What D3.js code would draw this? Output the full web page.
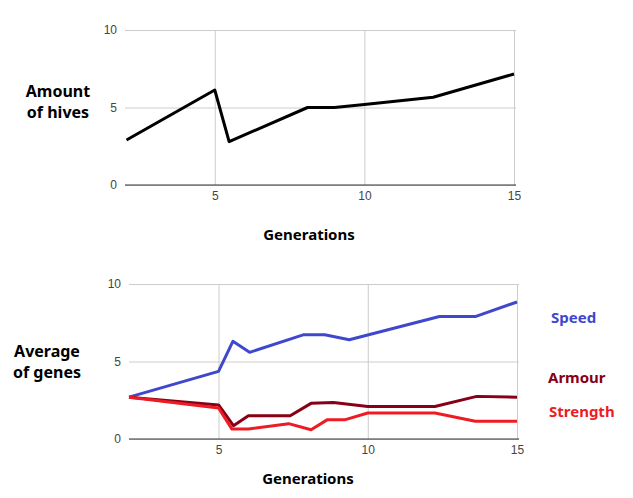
<!DOCTYPE html>
<html lang="en">
<head>
    <meta charset="utf-8"/>
    <title>Hives and genes over generations</title>
    <script src="https://d3js.org/d3.v7.min.js"></script>
    <style>
        html, body { margin: 0; padding: 0; background: #fff; }
        #chart { width: 633px; height: 498px; }
        .tick text { font-family: "Liberation Sans", Arial, sans-serif; font-size: 12px; fill: #444; }
        .title { font-family: "Noto Sans", "DejaVu Sans", sans-serif; font-weight: bold; font-size: 15px; }
        .title.big { font-size: 16px; }
    </style>
</head>
<body>
    <div id="chart"></div>

    <script>
        // top chart: amount of hives
        const hiveGens   = [2.05, 5.0, 5.48, 8.1, 9.0, 10.0, 12.3, 15.0];
        const hiveValues = [2.9, 6.13, 2.8, 5.0, 5.0, 5.2, 5.66, 7.16];

        // bottom chart: average of genes
        const speedGens      = [2.0, 5.0, 5.48, 6.04, 7.86, 8.56, 9.38, 12.4, 13.6, 15.0];
        const speedValues    = [2.7, 4.36, 6.3, 5.59, 6.73, 6.73, 6.4, 7.9, 7.9, 8.84];
        const armourGens     = [2.0, 5.0, 5.5, 6.0, 7.4, 8.1, 8.85, 10.0, 12.25, 13.65, 15.0];
        const armourValues   = [2.7, 2.2, 0.86, 1.5, 1.5, 2.3, 2.35, 2.1, 2.1, 2.75, 2.7];
        const strengthGens   = [2.0, 5.0, 5.45, 6.0, 7.35, 8.1, 8.65, 9.25, 10.0, 12.25, 13.6, 15.0];
        const strengthValues = [2.7, 2.0, 0.64, 0.64, 0.99, 0.6, 1.25, 1.25, 1.68, 1.68, 1.14, 1.14];

        const xTicks = [5, 10, 15];
        const yTicks = [0, 5, 10];

        const svg = d3.select('#chart').append('svg')
            .attr('width', 633)
            .attr('height', 498);

        function drawPanel(opts) {
            const x = d3.scaleLinear().domain(opts.xDomain).range(opts.xRange);
            const y = d3.scaleLinear().domain([0, 10]).range(opts.yRange);
            const g = svg.append('g');

            // horizontal grid
            g.append('g')
                .attr('transform', `translate(${opts.xRange[0]},0)`)
                .call(d3.axisLeft(y).tickValues(yTicks).tickSize(-(opts.xRange[1] - opts.xRange[0] + 2)).tickPadding(8))
                .call(a => a.select('.domain').remove())
                .call(a => a.selectAll('.tick line').attr('stroke', '#cccccc'));

            // vertical grid + bottom labels
            g.append('g')
                .attr('transform', `translate(0,${opts.yRange[0]})`)
                .call(d3.axisBottom(x).tickValues(xTicks).tickSize(-(opts.yRange[0] - opts.yRange[1])).tickPadding(6))
                .call(a => a.select('.domain').remove())
                .call(a => a.selectAll('.tick line').attr('stroke', '#cccccc'));

            // baseline
            g.append('line')
                .attr('x1', opts.xRange[0]).attr('x2', opts.xRange[1] + 2)
                .attr('y1', y(0)).attr('y2', y(0))
                .attr('stroke', '#333').attr('stroke-width', 1);

            const line = d3.line().x(d => x(d[0])).y(d => y(d[1]));
            opts.series.forEach(s => {
                g.append('path')
                    .datum(d3.zip(s.gens, s.values))
                    .attr('fill', 'none')
                    .attr('stroke', s.color)
                    .attr('stroke-width', 3)
                    .attr('stroke-linejoin', 'round')
                    .attr('d', line);
            });
        }

        drawPanel({
            xDomain: [2, 15], xRange: [125, 514], yRange: [185, 30],
            series: [{gens: hiveGens, values: hiveValues, color: '#000000'}]
        });

        drawPanel({
            xDomain: [2, 15], xRange: [129, 517], yRange: [439, 284],
            series: [
                {gens: speedGens, values: speedValues, color: '#3f48cc'},
                {gens: armourGens, values: armourValues, color: '#880015'},
                {gens: strengthGens, values: strengthValues, color: '#ed1c24'}
            ]
        });

        // titles
        function label(text, x, y, color, anchor, cls) {
            svg.append('text')
                .attr('class', 'title' + (cls ? ' ' + cls : ''))
                .attr('x', x).attr('y', y)
                .attr('text-anchor', anchor || 'middle')
                .attr('fill', color || '#000')
                .text(text);
        }
        label('Amount', 58, 97, null, null, 'big');
        label('of hives', 58, 118, null, null, 'big');
        label('Generations', 309, 240);
        label('Average', 47, 357, null, null, 'big');
        label('of genes', 47, 378, null, null, 'big');
        label('Generations', 308, 484);

        label('Speed', 551, 323, '#3f48cc', 'start');
        label('Armour', 548, 383, '#880015', 'start');
        label('Strength', 549, 417, '#ed1c24', 'start');
    </script>
</body>
</html>
